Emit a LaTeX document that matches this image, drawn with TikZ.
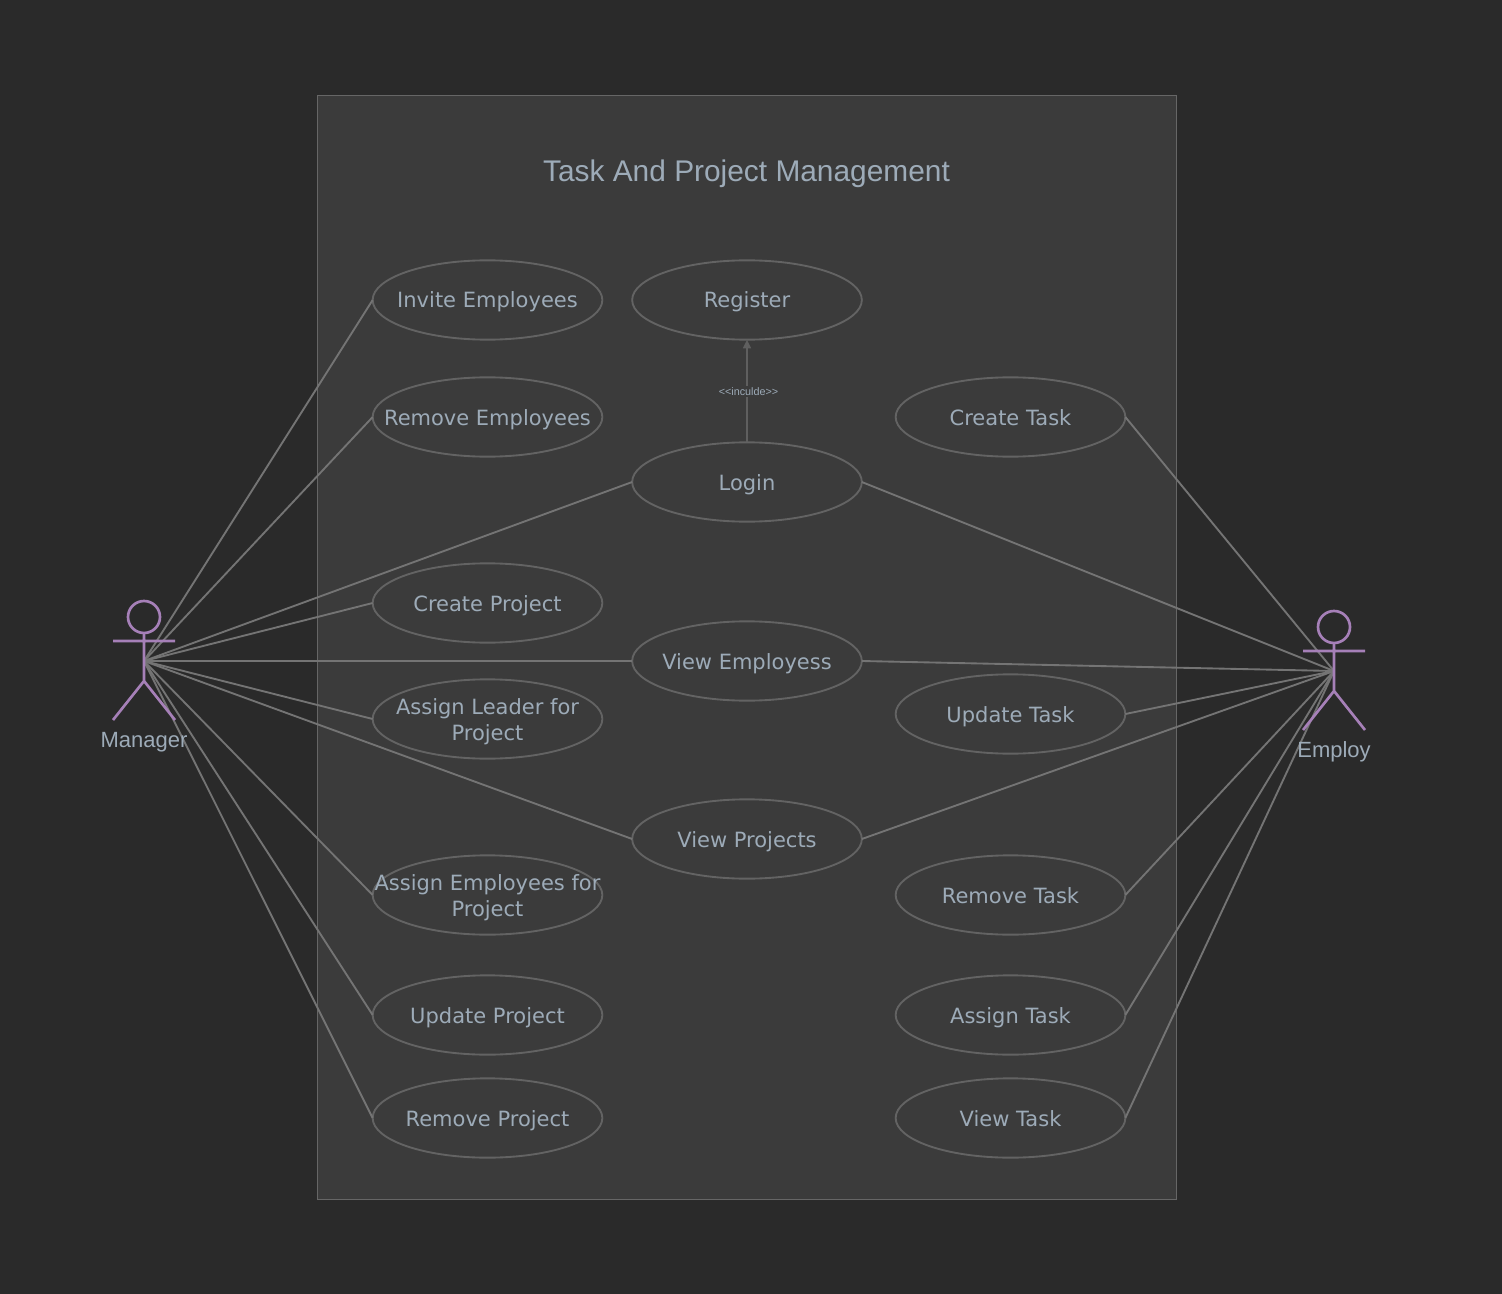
\documentclass[tikz,border=0pt]{standalone}
\usepackage{fontspec}
\setmainfont{Liberation Sans}
\newfontfamily\casefont{DejaVu Sans}
\usetikzlibrary{shapes.geometric,arrows.meta}
\definecolor{canvascol}{HTML}{2A2A2A}
\definecolor{boxcol}{HTML}{3B3B3B}
\definecolor{boxline}{HTML}{666666}
\definecolor{caseline}{HTML}{636363}
\definecolor{linkline}{HTML}{747474}
\definecolor{inclline}{HTML}{5F5F5F}
\definecolor{actorcol}{HTML}{A680B8}
\definecolor{textcol}{HTML}{9DABB8}
\begin{document}
\begin{tikzpicture}[
    x=0.75pt, y=-0.75pt,
    usecase/.style={ellipse, draw=caseline, line width=1.4pt, inner sep=0pt, outer sep=0pt,
      minimum width=172.25pt, minimum height=59.5pt},
    every label/.style={align=center, font=\casefont\fontsize{15.75}{19.5}\selectfont, text=textcol,
      text height=14pt, text depth=2pt, inner sep=0pt},
    twoline/.style={yshift=-9.75pt},
    link/.style={draw=linkline, line width=1.4pt},
    actor/.style={draw=actorcol, line width=2pt},
    actorname/.style={font=\fontsize{16.5}{20}\selectfont, text=textcol, inner sep=0pt}
  ]
  % canvas and system box
  \useasboundingbox (0,0) rectangle (1502,1294);
  \fill[canvascol] (0,0) rectangle (1502,1294);
  \filldraw[fill=boxcol, draw=boxline, line width=0.75pt] (317.5,95.5) rectangle (1176.5,1199.5);
  \node[font=\fontsize{22.4}{26}\selectfont, text=textcol] (title) at (746.5,174) {Task And Project Management};

  % actors
  \coordinate (manager) at (144,661);
  \coordinate (employ) at (1334,671);

  % use cases
  \node[usecase, label={center:Invite Employees}] (invite) at (487.5,300) {};
  \node[usecase, label={center:Remove Employees}] (removeemp) at (487.5,417) {};
  \node[usecase, label={center:Create Project}] (createproj) at (487.5,603) {};
  \node[usecase, label={[twoline]center:Assign Leader for\\Project}] (assignleader) at (487.5,719) {};
  \node[usecase, label={[twoline]center:Assign Employees for\\Project}] (assignemp) at (487.5,895) {};
  \node[usecase, label={center:Update Project}] (updateproj) at (487.5,1015) {};
  \node[usecase, label={center:Remove Project}] (removeproj) at (487.5,1118) {};
  \node[usecase, label={center:Register}] (register) at (747,300) {};
  \node[usecase, label={center:Login}] (login) at (747,482) {};
  \node[usecase, label={center:View Employess}] (viewemp) at (747,661) {};
  \node[usecase, label={center:View Projects}] (viewproj) at (747,839) {};
  \node[usecase, label={center:Create Task}] (createtask) at (1010.5,417) {};
  \node[usecase, label={center:Update Task}] (updatetask) at (1010.5,714) {};
  \node[usecase, label={center:Remove Task}] (removetask) at (1010.5,895) {};
  \node[usecase, label={center:Assign Task}] (assigntask) at (1010.5,1015) {};
  \node[usecase, label={center:View Task}] (viewtask) at (1010.5,1118) {};

  % manager links
  \foreach \target in {invite,removeemp,login,createproj,viewemp,assignleader,viewproj,assignemp,updateproj,removeproj}
    \draw[link] (manager) -- (\target.west);

  % employ links
  \foreach \target in {createtask,login,viewemp,updatetask,viewproj,removetask,assigntask,viewtask}
    \draw[link] (employ) -- (\target.east);

  % include
  \draw[draw=inclline, fill=inclline, line width=1.1pt, -{Triangle[length=6.5pt,width=6pt]}] (login.north) -- (register.south)
    node[midway, xshift=1.1pt, yshift=-0.5pt, fill=boxcol, inner sep=1pt, font=\fontsize{8.1}{10}\selectfont, text=textcol] (inculde) {<{}<inculde>{}>};

  % stick figures
  \draw[actor] (144,617) circle (12pt);
  \draw[actor] (144,633) -- (144,681) (113,641) -- (175,641) (113,720) -- (144,681) -- (175,720);
  \node[actorname] (managername) at (144,742) {Manager};
  \draw[actor] (1334,627) circle (12pt);
  \draw[actor] (1334,643) -- (1334,691) (1303,651) -- (1365,651) (1303,730) -- (1334,691) -- (1365,730);
  \node[actorname] (employname) at (1334,752) {Employ};
\end{tikzpicture}
\end{document}
